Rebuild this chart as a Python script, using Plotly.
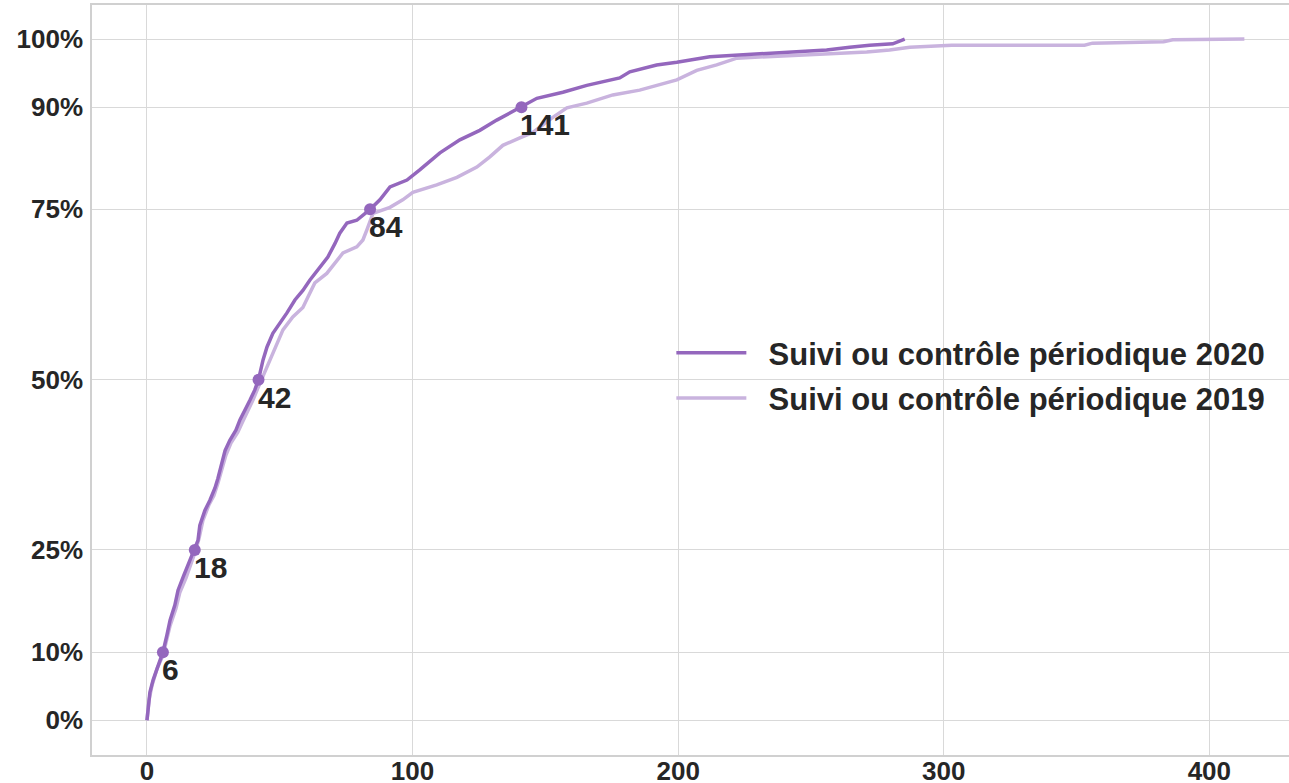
import plotly.graph_objects as go

# délai (jours) et part cumulée (%)
x_2020 = [0, 0.4, 1.1, 2.3, 4.1, 6.0, 7.5, 8.7, 10.5, 11.7, 13.9, 16.2, 18.0, 19.2, 19.9, 21.8,
          23.7, 25.6, 26.7, 28.2, 29.4, 31.2, 33.5, 35.0, 36.9, 38.8, 40.6, 42.0, 43.7, 45.2,
          47.4, 50.1, 52.7, 55.7, 58.7, 61.3, 65.1, 68.1, 70.8, 72.6, 75.3, 79.0, 84.0, 87.7,
          91.5, 97.9, 102.7, 110.3, 117.8, 125.3, 131.7, 141.0, 146.8, 156.6, 165.6, 178.0,
          181.8, 191.9, 199.5, 211.9, 226.9, 242.0, 255.9, 264.6, 272.1, 280.8, 284.5, 285.3]
y_2020 = [0, 2.1, 4.1, 5.9, 8.1, 10.0, 12.5, 14.7, 16.9, 19.1, 21.3, 23.5, 25.0, 26.4, 28.6, 30.8,
          32.3, 34.1, 35.5, 37.7, 39.6, 41.1, 42.6, 44.1, 45.5, 47.0, 48.5, 50.0, 52.9, 54.8,
          56.8, 58.3, 59.8, 61.7, 63.1, 64.6, 66.5, 68.0, 70.0, 71.5, 73.0, 73.4, 75.0, 76.4,
          78.3, 79.3, 80.8, 83.3, 85.2, 86.6, 88.1, 90.0, 91.3, 92.2, 93.2, 94.3,
          95.2, 96.2, 96.6, 97.4, 97.7, 98.1, 98.4, 98.8, 99.1, 99.3, 99.9, 100.0]

x_2019 = [0, 0.75, 1.9, 3.8, 6.0, 7.5, 8.7, 10.9, 12.4, 14.7, 16.9, 18.4, 19.6, 21.1, 23.3, 25.2,
          26.7, 28.2, 29.7, 31.6, 34.2, 36.1, 38.0, 39.9, 41.8, 43.3, 46.3, 48.9, 51.2, 54.9,
          58.7, 61.3, 63.2, 67.7, 71.5, 73.8, 79.0, 81.3, 82.8, 85.1, 91.5, 96.3, 100.1, 109.1,
          116.7, 124.2, 129.1, 134.0, 140.4, 145.3, 152.8, 158.1, 165.6, 175.4, 185.5, 191.9,
          199.5, 207.0, 214.5, 222.1, 233.3, 253.3, 271.0, 279.6, 287.2, 303.0, 353.0, 356.0,
          382.8, 386.2, 413.2]
y_2019 = [0, 2.9, 5.1, 7.6, 9.5, 11.7, 13.9, 16.4, 18.8, 20.9, 23.2, 25.0, 26.7, 29.4, 31.6, 33.0,
          34.8, 36.7, 38.9, 40.7, 42.3, 43.9, 45.4, 47.0, 48.8, 50.2, 52.9, 55.4, 57.3, 59.2,
          60.6, 62.7, 64.2, 65.6, 67.5, 68.6, 69.5, 70.5, 72.0, 74.4, 75.3, 76.4, 77.5, 78.6,
          79.7, 81.2, 82.7, 84.4, 85.5, 86.3, 88.5, 89.9, 90.6, 91.8, 92.5, 93.2,
          94.0, 95.4, 96.2, 97.2, 97.4, 97.7, 98.1, 98.4, 98.8, 99.1, 99.1, 99.4,
          99.6, 99.9, 100.0]

# quantiles 2020 annotés
q_levels = [10, 25, 50, 75, 90]
q_days = [6, 18, 42, 84, 141]

y_ticks = [0, 10, 25, 50, 75, 90, 100]

dark = "#9467bd"
light = "#c9b3de"
text_color = "#262626"
pad = "\u00a0\u00a0"

fig = go.Figure()

fig.add_trace(go.Scatter(x=x_2019, y=[v / 100 for v in y_2019], mode="lines",
                         name=pad + "Suivi ou contrôle périodique 2019",
                         line=dict(color=light, width=3.5), legendrank=2, legendgroup="b"))
fig.add_trace(go.Scatter(x=x_2020, y=[v / 100 for v in y_2020], mode="lines",
                         name=pad + "Suivi ou contrôle périodique 2020",
                         line=dict(color=dark, width=3.5), legendrank=1, legendgroup="a"))
fig.add_trace(go.Scatter(x=q_days, y=[v / 100 for v in q_levels], mode="markers",
                         marker=dict(color=dark, size=12), showlegend=False))

for d, q in zip(q_days, q_levels):
    fig.add_annotation(x=d, y=q / 100, text=str(d), showarrow=False,
                       xanchor="left", yanchor="top", xshift=-3, yshift=1,
                       font=dict(size=30, color=text_color, weight="bold"))

fig.update_layout(
    width=1289, height=783,
    margin=dict(l=92, r=0, t=5, b=28, autoexpand=False),
    plot_bgcolor="white", paper_bgcolor="white",
    font=dict(family="Liberation Sans, Arial, sans-serif", size=26, color=text_color, weight="bold"),
    legend=dict(x=0.484, y=0.572, xanchor="left", yanchor="top",
                bgcolor="rgba(0,0,0,0)", font=dict(size=31, weight="bold"),
                itemwidth=70, tracegroupgap=2),
)
fig.update_xaxes(range=[-20.7, 430], tickvals=[0, 100, 200, 300, 400], automargin=False,
                 showgrid=True, gridcolor="#d9d9d9", gridwidth=1.2,
                 showline=True, linecolor="#d0d0d0", linewidth=1.5, mirror=True,
                 zeroline=False, ticks="", ticklabelstandoff=-8)
fig.update_yaxes(range=[-0.051, 1.05], tickvals=[v / 100 for v in y_ticks], automargin=False,
                 ticktext=[f"{v}%" for v in y_ticks],
                 showgrid=True, gridcolor="#d9d9d9", gridwidth=1.2,
                 showline=True, linecolor="#d0d0d0", linewidth=1.5, mirror=False,
                 zeroline=False, ticks="", ticklabelstandoff=2)

fig.write_html("out.html", config={"displayModeBar": False},
               post_script="document.body.style.margin='0';")
